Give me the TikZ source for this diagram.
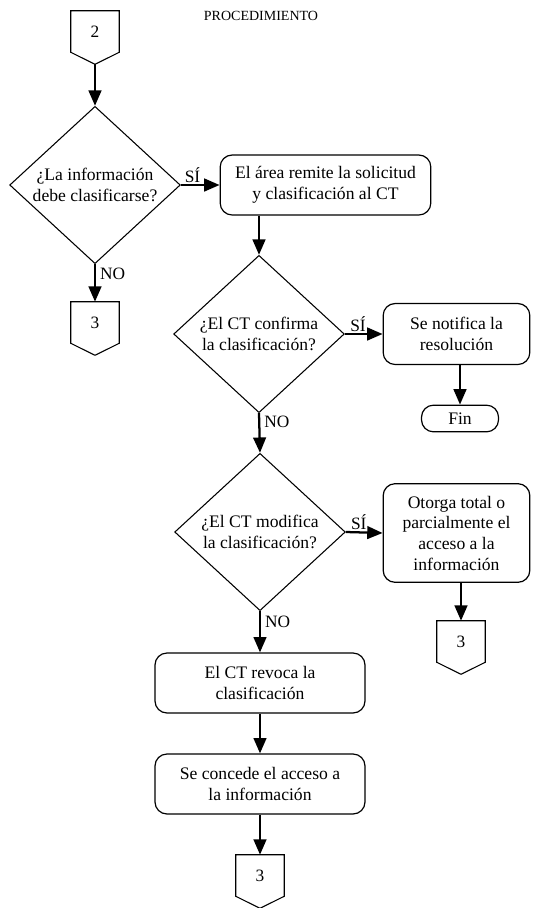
\documentclass[tikz,border=0pt]{standalone}
\usepackage{fontspec}
\setmainfont{Liberation Serif}
\usetikzlibrary{shapes.geometric,arrows.meta}
\tikzset{
  flow/.style={line width=1.7pt,-{Triangle[length=11.5pt,width=9.5pt]}},
  procbox/.style={draw,line width=0.9pt,rounded corners=9pt,align=center,font=\fontsize{13.2}{15.5}\selectfont,inner sep=0pt},
  decision/.style={draw,line width=0.8pt,shape=diamond,minimum width=128pt,minimum height=118pt,inner sep=0pt},
  dtext/.style={align=center,font=\fontsize{13.2}{15.5}\selectfont},
  conntext/.style={minimum width=36pt,minimum height=30.75pt,inner sep=0pt,font=\fontsize{13}{15}\selectfont},
  connline/.style={draw,line width=0.8pt},
  lbl/.style={font=\fontsize{13}{15}\selectfont,inner sep=1pt}
}
\newcommand{\connector}[4]{%
  \node[conntext] (#1) at (#2,#3) {#4};
  \coordinate (#1tip) at ([yshift=-9pt]#1.south);
  \path[connline] (#1.north west) -- (#1.north east) -- (#1.south east) -- (#1tip) -- (#1.south west) -- cycle;
}
\begin{document}
\begin{tikzpicture}[x=0.75pt,y=-0.75pt]
\useasboundingbox (0,0) rectangle (539,908);
% title
\node[font=\fontsize{10.5}{12}\selectfont] (title) at (261,16) {PROCEDIMIENTO};
% connectors
\connector{c2}{95}{31.5}{2}
\connector{c3a}{95}{322.5}{3}
\connector{c3b}{461}{641.5}{3}
\connector{c3c}{260}{875.5}{3}
% decisions
\node[decision] (d1) at (95,185) {};
\node[dtext] (t1) at (d1.center) {¿La información\\debe clasificarse?};
\node[decision] (d2) at (259,334) {};
\node[dtext] (t2) at (d2.center) {¿El CT confirma\\la clasificación?};
\node[decision] (d3) at (260,532) {};
\node[dtext] (t3) at (d3.center) {¿El CT modifica\\la clasificación?};
% process boxes
\node[procbox,minimum width=158pt,minimum height=45pt] (b1) at (325.5,185) {El área remite la solicitud\\y clasificación al CT};
\node[procbox,minimum width=110pt,minimum height=45.75pt] (b2) at (456.5,334) {Se notifica la\\resolución};
\node[procbox,minimum width=57.75pt,minimum height=20pt] (fin) at (460,418.5) {Fin};
\node[procbox,minimum width=110pt,minimum height=74pt] (b3) at (456.5,533) {Otorga total o\\parcialmente el\\acceso a la\\información};
\node[procbox,minimum width=157.5pt,minimum height=45pt] (b4) at (260,683) {El CT revoca la\\clasificación};
\node[procbox,minimum width=157.5pt,minimum height=45pt] (b5) at (260,784) {Se concede el acceso a\\la información};
% connections
\draw[flow] (c2tip) -- (d1.north);
\draw[flow] (d1.south) -- node[lbl,anchor=west,pos=0.25,xshift=2pt] (no1) {NO} (c3a.north);
\draw[flow] (d1.east) -- node[lbl,anchor=south,pos=0.3] (si1) {SÍ} (b1.west);
\draw[flow] (d2.north |- b1.south) -- (d2.north);
\draw[flow] (d2.east) -- node[lbl,anchor=south,pos=0.35] (si2) {SÍ} (b2.west);
\draw[flow] (b2.south -| fin.north) -- (fin.north);
\draw[flow] (d2.south) -- node[lbl,anchor=west,pos=0.22,xshift=2pt] (no2) {NO} (d3.north);
\draw[flow] (d3.east) -- node[lbl,anchor=south,pos=0.35] (si3) {SÍ} (b3.west);
\draw[flow] (b3.south -| c3b.north) -- (c3b.north);
\draw[flow] (d3.south) -- node[lbl,anchor=west,pos=0.25,xshift=2pt] (no3) {NO} (b4.north);
\draw[flow] (b4.south) -- (b5.north);
\draw[flow] (b5.south) -- (c3c.north);
\end{tikzpicture}
\end{document}
